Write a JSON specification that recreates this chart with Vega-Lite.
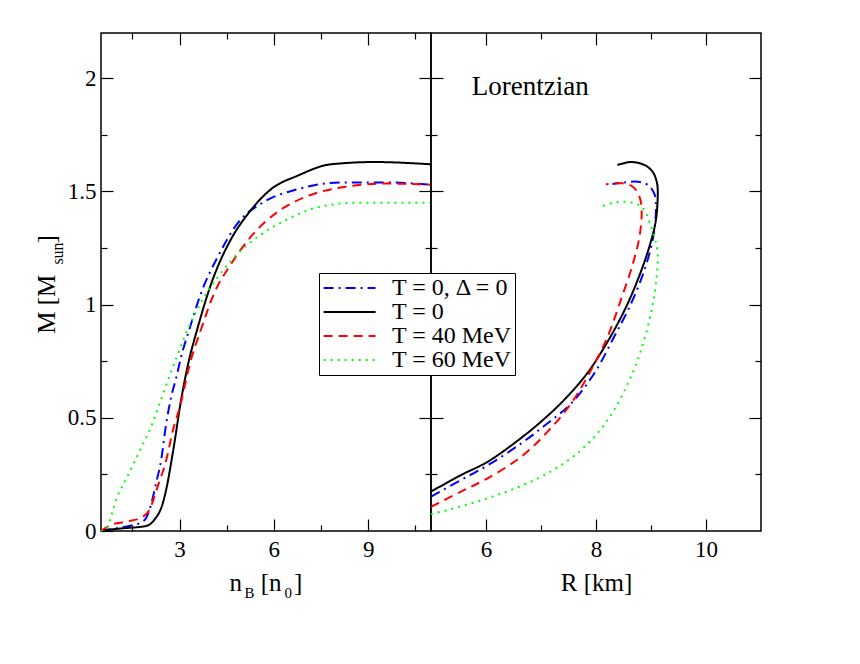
{
  "$schema": "https://vega.github.io/schema/vega-lite/v6.json",
  "background": "white",
  "padding": {"left": 33, "top": 31, "right": 10, "bottom": 10},
  "datasets": {
    "nb": [
      {"T": "T = 0, Δ = 0", "n": 0.5, "M": 0},
      {"T": "T = 0, Δ = 0", "n": 1.0, "M": 0.012},
      {"T": "T = 0, Δ = 0", "n": 1.5, "M": 0.025},
      {"T": "T = 0, Δ = 0", "n": 1.72, "M": 0.034},
      {"T": "T = 0, Δ = 0", "n": 1.93, "M": 0.056},
      {"T": "T = 0, Δ = 0", "n": 2.09, "M": 0.115},
      {"T": "T = 0, Δ = 0", "n": 2.25, "M": 0.21},
      {"T": "T = 0, Δ = 0", "n": 2.41, "M": 0.31},
      {"T": "T = 0, Δ = 0", "n": 2.57, "M": 0.47},
      {"T": "T = 0, Δ = 0", "n": 2.73, "M": 0.59},
      {"T": "T = 0, Δ = 0", "n": 2.9, "M": 0.68},
      {"T": "T = 0, Δ = 0", "n": 3.05, "M": 0.77},
      {"T": "T = 0, Δ = 0", "n": 3.31, "M": 0.89},
      {"T": "T = 0, Δ = 0", "n": 3.68, "M": 1.05},
      {"T": "T = 0, Δ = 0", "n": 4.21, "M": 1.21},
      {"T": "T = 0, Δ = 0", "n": 4.85, "M": 1.36},
      {"T": "T = 0, Δ = 0", "n": 5.7, "M": 1.455},
      {"T": "T = 0, Δ = 0", "n": 6.76, "M": 1.51},
      {"T": "T = 0, Δ = 0", "n": 8.14, "M": 1.54},
      {"T": "T = 0, Δ = 0", "n": 9.51, "M": 1.54},
      {"T": "T = 0, Δ = 0", "n": 11, "M": 1.53},
      {"T": "T = 0", "n": 0.5, "M": 0.003},
      {"T": "T = 0", "n": 1.2, "M": 0.012},
      {"T": "T = 0", "n": 1.93, "M": 0.022},
      {"T": "T = 0", "n": 2.2, "M": 0.05},
      {"T": "T = 0", "n": 2.46, "M": 0.12},
      {"T": "T = 0", "n": 2.6, "M": 0.2},
      {"T": "T = 0", "n": 2.73, "M": 0.3},
      {"T": "T = 0", "n": 2.86, "M": 0.41},
      {"T": "T = 0", "n": 2.99, "M": 0.53},
      {"T": "T = 0", "n": 3.26, "M": 0.73},
      {"T": "T = 0", "n": 3.58, "M": 0.9},
      {"T": "T = 0", "n": 4.0, "M": 1.09},
      {"T": "T = 0", "n": 4.64, "M": 1.29},
      {"T": "T = 0", "n": 5.17, "M": 1.4},
      {"T": "T = 0", "n": 5.91, "M": 1.51},
      {"T": "T = 0", "n": 6.76, "M": 1.57},
      {"T": "T = 0", "n": 7.82, "M": 1.62},
      {"T": "T = 0", "n": 9.2, "M": 1.63},
      {"T": "T = 0", "n": 11, "M": 1.62},
      {"T": "T = 40 MeV", "n": 0.5, "M": 0},
      {"T": "T = 40 MeV", "n": 0.82, "M": 0.027},
      {"T": "T = 40 MeV", "n": 1.3, "M": 0.041},
      {"T": "T = 40 MeV", "n": 1.83, "M": 0.063},
      {"T": "T = 40 MeV", "n": 2.04, "M": 0.093},
      {"T": "T = 40 MeV", "n": 2.3, "M": 0.196},
      {"T": "T = 40 MeV", "n": 2.57, "M": 0.31},
      {"T": "T = 40 MeV", "n": 2.78, "M": 0.44},
      {"T": "T = 40 MeV", "n": 3.03, "M": 0.56},
      {"T": "T = 40 MeV", "n": 3.33, "M": 0.74},
      {"T": "T = 40 MeV", "n": 3.68, "M": 0.89},
      {"T": "T = 40 MeV", "n": 4.1, "M": 1.05},
      {"T": "T = 40 MeV", "n": 4.64, "M": 1.18},
      {"T": "T = 40 MeV", "n": 5.27, "M": 1.3},
      {"T": "T = 40 MeV", "n": 6.12, "M": 1.41},
      {"T": "T = 40 MeV", "n": 7.08, "M": 1.48},
      {"T": "T = 40 MeV", "n": 8.24, "M": 1.52},
      {"T": "T = 40 MeV", "n": 9.51, "M": 1.535},
      {"T": "T = 40 MeV", "n": 11, "M": 1.53},
      {"T": "T = 60 MeV", "n": 0.5, "M": 0},
      {"T": "T = 60 MeV", "n": 0.66, "M": 0.01},
      {"T": "T = 60 MeV", "n": 0.77, "M": 0.041},
      {"T": "T = 60 MeV", "n": 0.98, "M": 0.137},
      {"T": "T = 60 MeV", "n": 1.3, "M": 0.23},
      {"T": "T = 60 MeV", "n": 1.72, "M": 0.35},
      {"T": "T = 60 MeV", "n": 2.15, "M": 0.48},
      {"T": "T = 60 MeV", "n": 2.46, "M": 0.6},
      {"T": "T = 60 MeV", "n": 2.83, "M": 0.74},
      {"T": "T = 60 MeV", "n": 3.26, "M": 0.89},
      {"T": "T = 60 MeV", "n": 3.68, "M": 1.01},
      {"T": "T = 60 MeV", "n": 4.21, "M": 1.12},
      {"T": "T = 60 MeV", "n": 4.74, "M": 1.21},
      {"T": "T = 60 MeV", "n": 5.49, "M": 1.3},
      {"T": "T = 60 MeV", "n": 6.33, "M": 1.37},
      {"T": "T = 60 MeV", "n": 7.39, "M": 1.43},
      {"T": "T = 60 MeV", "n": 8.67, "M": 1.45},
      {"T": "T = 60 MeV", "n": 11, "M": 1.45}
    ],
    "mr": [
      {"T": "T = 0, Δ = 0", "i": 1, "R": 5.0, "M": 0.152},
      {"T": "T = 0, Δ = 0", "i": 2, "R": 5.545, "M": 0.225},
      {"T": "T = 0, Δ = 0", "i": 3, "R": 6.03, "M": 0.29},
      {"T": "T = 0, Δ = 0", "i": 4, "R": 6.64, "M": 0.387},
      {"T": "T = 0, Δ = 0", "i": 5, "R": 7.12, "M": 0.476},
      {"T": "T = 0, Δ = 0", "i": 6, "R": 7.55, "M": 0.564},
      {"T": "T = 0, Δ = 0", "i": 7, "R": 7.97, "M": 0.697},
      {"T": "T = 0, Δ = 0", "i": 8, "R": 8.33, "M": 0.858},
      {"T": "T = 0, Δ = 0", "i": 9, "R": 8.64, "M": 1.006},
      {"T": "T = 0, Δ = 0", "i": 10, "R": 8.88, "M": 1.153},
      {"T": "T = 0, Δ = 0", "i": 11, "R": 9.03, "M": 1.286},
      {"T": "T = 0, Δ = 0", "i": 12, "R": 9.09, "M": 1.418},
      {"T": "T = 0, Δ = 0", "i": 13, "R": 9.06, "M": 1.49},
      {"T": "T = 0, Δ = 0", "i": 14, "R": 8.94, "M": 1.529},
      {"T": "T = 0, Δ = 0", "i": 15, "R": 8.76, "M": 1.543},
      {"T": "T = 0, Δ = 0", "i": 16, "R": 8.52, "M": 1.54},
      {"T": "T = 0, Δ = 0", "i": 17, "R": 8.3, "M": 1.533},
      {"T": "T = 0", "i": 1, "R": 5.0, "M": 0.174},
      {"T": "T = 0", "i": 2, "R": 5.545, "M": 0.247},
      {"T": "T = 0", "i": 3, "R": 6.03, "M": 0.306},
      {"T": "T = 0", "i": 4, "R": 6.58, "M": 0.4},
      {"T": "T = 0", "i": 5, "R": 7.0, "M": 0.483},
      {"T": "T = 0", "i": 6, "R": 7.42, "M": 0.579},
      {"T": "T = 0", "i": 7, "R": 7.85, "M": 0.7},
      {"T": "T = 0", "i": 8, "R": 8.21, "M": 0.836},
      {"T": "T = 0", "i": 9, "R": 8.52, "M": 0.976},
      {"T": "T = 0", "i": 10, "R": 8.76, "M": 1.11},
      {"T": "T = 0", "i": 11, "R": 8.97, "M": 1.256},
      {"T": "T = 0", "i": 12, "R": 9.08, "M": 1.36},
      {"T": "T = 0", "i": 13, "R": 9.12, "M": 1.46},
      {"T": "T = 0", "i": 14, "R": 9.11, "M": 1.536},
      {"T": "T = 0", "i": 15, "R": 9.03, "M": 1.587},
      {"T": "T = 0", "i": 16, "R": 8.88, "M": 1.617},
      {"T": "T = 0", "i": 17, "R": 8.64, "M": 1.63},
      {"T": "T = 0", "i": 18, "R": 8.39, "M": 1.617},
      {"T": "T = 40 MeV", "i": 1, "R": 5.0, "M": 0.107},
      {"T": "T = 40 MeV", "i": 2, "R": 5.545, "M": 0.174},
      {"T": "T = 40 MeV", "i": 3, "R": 6.03, "M": 0.233},
      {"T": "T = 40 MeV", "i": 4, "R": 6.64, "M": 0.328},
      {"T": "T = 40 MeV", "i": 5, "R": 7.12, "M": 0.439},
      {"T": "T = 40 MeV", "i": 6, "R": 7.55, "M": 0.564},
      {"T": "T = 40 MeV", "i": 7, "R": 7.91, "M": 0.711},
      {"T": "T = 40 MeV", "i": 8, "R": 8.21, "M": 0.858},
      {"T": "T = 40 MeV", "i": 9, "R": 8.45, "M": 1.02},
      {"T": "T = 40 MeV", "i": 10, "R": 8.67, "M": 1.18},
      {"T": "T = 40 MeV", "i": 11, "R": 8.79, "M": 1.3},
      {"T": "T = 40 MeV", "i": 12, "R": 8.83, "M": 1.41},
      {"T": "T = 40 MeV", "i": 13, "R": 8.79, "M": 1.477},
      {"T": "T = 40 MeV", "i": 14, "R": 8.67, "M": 1.521},
      {"T": "T = 40 MeV", "i": 15, "R": 8.49, "M": 1.536},
      {"T": "T = 40 MeV", "i": 16, "R": 8.18, "M": 1.532},
      {"T": "T = 60 MeV", "i": 1, "R": 5.0, "M": 0.074},
      {"T": "T = 60 MeV", "i": 2, "R": 5.73, "M": 0.122},
      {"T": "T = 60 MeV", "i": 3, "R": 6.45, "M": 0.181},
      {"T": "T = 60 MeV", "i": 4, "R": 7.12, "M": 0.255},
      {"T": "T = 60 MeV", "i": 5, "R": 7.73, "M": 0.358},
      {"T": "T = 60 MeV", "i": 6, "R": 8.21, "M": 0.49},
      {"T": "T = 60 MeV", "i": 7, "R": 8.58, "M": 0.652},
      {"T": "T = 60 MeV", "i": 8, "R": 8.82, "M": 0.8},
      {"T": "T = 60 MeV", "i": 9, "R": 9.0, "M": 0.962},
      {"T": "T = 60 MeV", "i": 10, "R": 9.09, "M": 1.094},
      {"T": "T = 60 MeV", "i": 11, "R": 9.12, "M": 1.227},
      {"T": "T = 60 MeV", "i": 12, "R": 9.06, "M": 1.3},
      {"T": "T = 60 MeV", "i": 13, "R": 8.97, "M": 1.366},
      {"T": "T = 60 MeV", "i": 14, "R": 8.88, "M": 1.418},
      {"T": "T = 60 MeV", "i": 15, "R": 8.76, "M": 1.443},
      {"T": "T = 60 MeV", "i": 16, "R": 8.52, "M": 1.455},
      {"T": "T = 60 MeV", "i": 17, "R": 8.33, "M": 1.45},
      {"T": "T = 60 MeV", "i": 18, "R": 8.12, "M": 1.436}
    ]
  },
  "spacing": 0,
  "bounds": "flush",
  "hconcat": [
    {
      "width": 330,
      "height": 498,
      "layer": [
        {
          "data": {"name": "nb"},
          "mark": {"type": "line", "strokeWidth": 2, "clip": true, "interpolate": "monotone"},
          "encoding": {
            "x": {
              "field": "n", "type": "quantitative",
              "scale": {"domain": [0.5, 11], "nice": false, "zero": false},
              "axis": {
                "orient": "bottom",
                "values": [1.5, 3, 4.5, 6, 7.5, 9, 10.5],
                "labelExpr": "datum.value % 3 === 0 ? '' + datum.value : ''",
                "tickSize": {"condition": {"test": "datum.value % 3 === 0", "value": -12}, "value": -6},
                "labelPadding": 19,
                "title": "n\u00a0\u00a0\u00a0[n\u00a0\u00a0]",
                "titleX": 128, "titleY": 59, "titleAlign": "left", "titleBaseline": "alphabetic"
              }
            },
            "y": {
              "field": "M", "type": "quantitative",
              "scale": {"domain": [0, 2.2], "nice": false, "zero": false},
              "axis": {
                "orient": "left",
                "values": [0, 0.25, 0.5, 0.75, 1, 1.25, 1.5, 1.75, 2],
                "labelExpr": "datum.value % 0.5 === 0 ? '' + datum.value : ''",
                "tickSize": {"condition": {"test": "datum.value % 0.5 === 0", "value": -12}, "value": -6},
                "labelPadding": 17,
                "title": "M [M\u00a0\u00a0\u00a0\u00a0\u00a0]",
                "titleX": -47, "titleY": 251, "titleAngle": 270, "titleAlign": "center", "titleBaseline": "alphabetic"
              }
            },
            "color": {
              "field": "T", "type": "nominal",
              "scale": {"domain": ["T = 0, Δ = 0", "T = 0", "T = 40 MeV", "T = 60 MeV"], "range": ["#0000ff", "#000000", "#ff0000", "#00ff00"]},
              "legend": {"orient": "none", "legendX": 218, "legendY": 240}
            },
            "strokeDash": {
              "field": "T", "type": "nominal",
              "scale": {"domain": ["T = 0, Δ = 0", "T = 0", "T = 40 MeV", "T = 60 MeV"], "range": [[10, 5, 2, 5], [1, 0], [9, 6], [2, 5]]},
              "legend": {"orient": "none", "legendX": 218, "legendY": 240}
            }
          }
        },
        {
          "data": {"name": "nb"},
          "mark": {"type": "point", "opacity": 0},
          "encoding": {
            "x": {
              "field": "n", "type": "quantitative",
              "scale": {"domain": [0.5, 11], "nice": false, "zero": false},
              "axis": {
                "orient": "top", "labels": false, "title": null,
                "values": [1.5, 3, 4.5, 6, 7.5, 9, 10.5],
                "tickSize": {"condition": {"test": "datum.value % 3 === 0", "value": -12}, "value": -6}
              }
            },
            "y": {
              "field": "M", "type": "quantitative",
              "scale": {"domain": [0, 2.2], "nice": false, "zero": false},
              "axis": {
                "orient": "right", "labels": false, "title": null,
                "values": [0.25, 0.5, 0.75, 1, 1.25, 1.5, 1.75, 2],
                "tickSize": {"condition": {"test": "datum.value % 0.5 === 0", "value": -12}, "value": -6}
              }
            }
          }
        },
        {
          "data": {"name": "nb"},
          "mark": {"type": "point", "opacity": 0},
          "encoding": {
            "x": {
              "field": "n", "type": "quantitative",
              "scale": {"domain": [0.5, 11], "nice": false, "zero": false},
              "axis": {
                "orient": "bottom", "labels": false, "ticks": false,
                "title": "B\u00a0\u00a0\u00a0\u00a0\u00a0\u00a0\u00a0\u00a00", "titleFontSize": 15,
                "titleX": 143, "titleY": 66, "titleAlign": "left", "titleBaseline": "alphabetic"
              }
            },
            "y": {
              "field": "M", "type": "quantitative",
              "scale": {"domain": [0, 2.2], "nice": false, "zero": false},
              "axis": {
                "orient": "left", "labels": false, "ticks": false,
                "title": "sun", "titleFontSize": 16,
                "titleX": -39, "titleY": 220, "titleAngle": 270, "titleAlign": "center", "titleBaseline": "alphabetic"
              }
            }
          }
        }
      ],
      "resolve": {"axis": {"x": "independent", "y": "independent"}}
    },
    {
      "width": 330,
      "height": 498,
      "layer": [
        {
          "data": {"name": "mr"},
          "mark": {"type": "line", "strokeWidth": 2, "clip": true, "interpolate": "catmull-rom"},
          "encoding": {
            "x": {
              "field": "R", "type": "quantitative",
              "scale": {"domain": [5, 11], "nice": false, "zero": false},
              "axis": {
                "orient": "bottom",
                "values": [6, 7, 8, 9, 10],
                "labelExpr": "datum.value % 2 === 0 ? '' + datum.value : ''",
                "tickSize": {"condition": {"test": "datum.value % 2 === 0", "value": -12}, "value": -6},
                "labelPadding": 19,
                "title": "R [km]",
                "titleY": 59, "titleBaseline": "alphabetic"
              }
            },
            "y": {
              "field": "M", "type": "quantitative",
              "scale": {"domain": [0, 2.2], "nice": false, "zero": false},
              "axis": {
                "orient": "left", "labels": false, "title": null,
                "values": [0.25, 0.5, 0.75, 1, 1.25, 1.5, 1.75, 2],
                "tickSize": {"condition": {"test": "datum.value % 0.5 === 0", "value": -12}, "value": -6}
              }
            },
            "order": {"field": "i", "type": "quantitative"},
            "color": {
              "field": "T", "type": "nominal",
              "scale": {"domain": ["T = 0, Δ = 0", "T = 0", "T = 40 MeV", "T = 60 MeV"], "range": ["#0000ff", "#000000", "#ff0000", "#00ff00"]},
              "legend": {"orient": "none", "legendX": 218, "legendY": 240}
            },
            "strokeDash": {
              "field": "T", "type": "nominal",
              "scale": {"domain": ["T = 0, Δ = 0", "T = 0", "T = 40 MeV", "T = 60 MeV"], "range": [[10, 5, 2, 5], [1, 0], [9, 6], [2, 5]]},
              "legend": {"orient": "none", "legendX": 218, "legendY": 240}
            }
          }
        },
        {
          "data": {"name": "mr"},
          "mark": {"type": "point", "opacity": 0},
          "encoding": {
            "x": {
              "field": "R", "type": "quantitative",
              "scale": {"domain": [5, 11], "nice": false, "zero": false},
              "axis": {
                "orient": "top", "labels": false, "title": null,
                "values": [6, 7, 8, 9, 10],
                "tickSize": {"condition": {"test": "datum.value % 2 === 0", "value": -12}, "value": -6}
              }
            },
            "y": {
              "field": "M", "type": "quantitative",
              "scale": {"domain": [0, 2.2], "nice": false, "zero": false},
              "axis": {
                "orient": "right", "labels": false, "title": null,
                "values": [0.25, 0.5, 0.75, 1, 1.25, 1.5, 1.75, 2],
                "tickSize": {"condition": {"test": "datum.value % 0.5 === 0", "value": -12}, "value": -6}
              }
            }
          }
        },
        {
          "data": {"values": [{"label": "Lorentzian"}]},
          "mark": {"type": "text", "align": "left", "baseline": "alphabetic", "fontSize": 27},
          "encoding": {
            "x": {"datum": 5.74, "type": "quantitative", "scale": {"domain": [5, 11], "nice": false, "zero": false}, "axis": null},
            "y": {"datum": 1.926, "type": "quantitative", "scale": {"domain": [0, 2.2], "nice": false, "zero": false}, "axis": null},
            "text": {"field": "label"}
          }
        }
      ],
      "resolve": {"axis": {"x": "independent", "y": "independent"}}
    }
  ],
  "config": {
    "font": "Liberation Serif, DejaVu Serif, serif",
    "view": {"stroke": "black", "strokeWidth": 1.5},
    "text": {"font": "Liberation Serif, DejaVu Serif, serif"},
    "axis": {
      "grid": false,
      "domain": false,
      "labelFont": "Liberation Serif, DejaVu Serif, serif",
      "labelFontSize": 23,
      "labelColor": "black",
      "labelOverlap": false,
      "labelBound": false,
      "titleFont": "Liberation Serif, DejaVu Serif, serif",
      "titleFontSize": 25,
      "titleFontWeight": "normal",
      "titleColor": "black",
      "tickColor": "black",
      "tickWidth": 1.2
    },
    "legend": {
      "title": null,
      "symbolType": "M-1,0H4",
      "symbolSize": 432,
      "symbolStrokeWidth": 2,
      "labelFont": "Liberation Serif, DejaVu Serif, serif",
      "labelFontSize": 24,
      "labelColor": "black",
      "labelOffset": 46,
      "labelLimit": 300,
      "strokeColor": "black",
      "fillColor": "white",
      "padding": 3,
      "rowPadding": 0
    }
  }
}
